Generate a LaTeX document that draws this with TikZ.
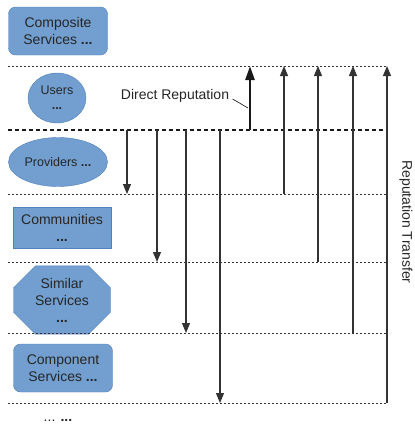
\documentclass[tikz,border=0pt]{standalone}
\usepackage{fontspec}
\setmainfont{Liberation Sans}
\usepackage{tikz}
\usetikzlibrary{shapes.geometric, shapes.misc, arrows.meta, positioning, calc}
\definecolor{entityfill}{HTML}{729FCF}
\definecolor{entityedge}{HTML}{4F7FBF}
\definecolor{arrowgray}{HTML}{333333}

\begin{document}
\begin{tikzpicture}[
    x=1pt, y=-1pt,
    every node/.style={font=\fontsize{14}{17}\selectfont, text=black!85},
    entity/.style={draw=entityedge, fill=entityfill, align=center, inner sep=1pt},
    roundbox/.style={entity, rounded corners=7pt, minimum width=99pt, minimum height=48pt},
    oval/.style={entity, ellipse, font=\fontsize{12.5}{15}\selectfont},
    sharpbox/.style={entity, minimum width=98pt, minimum height=41pt},
    cutbox/.style={entity, chamfered rectangle, chamfered rectangle xsep=10pt,
                   chamfered rectangle ysep=12pt, minimum width=97pt, minimum height=51pt, inner sep=0pt},
    dotline/.style={draw=black!80, line width=0.8pt, dash pattern=on 2pt off 2pt},
    dashline/.style={draw=black!90, line width=1.6pt, dash pattern=on 4pt off 3pt},
    arrow/.style={-{Triangle[length=10pt, width=8pt]}, line width=1.1pt, arrowgray},
    bigarrow/.style={-{Triangle[length=14pt, width=9pt]}, line width=2.6pt, black!90}
  ]
    \useasboundingbox (0,0) rectangle (415,426);

    % entity types
    \node[roundbox] (composite) at (58,31) {Composite\\Services \textbf{...}};
    \node[oval, minimum width=58pt, minimum height=50pt] (users) at (57,98) {Users\\\textbf{...}};
    \node[oval, minimum width=99pt, minimum height=49pt] (providers) at (58,162) {Providers \textbf{...}};
    \node[sharpbox] (communities) at (62,228) {Communities\\\textbf{...}};
    \node[cutbox] (similar) at (62,300) {Similar\\Services\\\textbf{...}};
    \node[roundbox] (component) at (63,368) {Component\\Services \textbf{...}};
    \node (more) at (58,420) {... \textbf{...}};

    % level lines
    \coordinate (l0) at (8,66);  \coordinate (r0) at (387,66);
    \coordinate (l1) at (8,130); \coordinate (r1) at (387,130);
    \coordinate (l2) at (8,194); \coordinate (r2) at (387,194);
    \coordinate (l3) at (8,262); \coordinate (r3) at (387,262);
    \coordinate (l4) at (8,333); \coordinate (r4) at (387,333);
    \coordinate (l5) at (8,403); \coordinate (r5) at (387,403);

    \draw[dotline] (l0) -- (r0);
    \draw[dashline] (l1) -- (r1);
    \foreach \k in {2,3,4,5} {
      \draw[dotline] (l\k) -- (r\k);
    }

    % reputation transfer
    \coordinate (dn2) at (127,130);
    \coordinate (dn3) at (157,130);
    \coordinate (dn4) at (186,130);
    \coordinate (dn5) at (220,130);
    \foreach \k in {2,3,4,5} {
      \draw[arrow] (dn\k) -- (dn\k |- l\k);
    }
    \coordinate (up2) at (284,66);
    \coordinate (up3) at (318,66);
    \coordinate (up4) at (353,66);
    \foreach \k in {2,3,4} {
      \draw[arrow] (up\k |- l\k) -- (up\k);
    }
    \draw[arrow] (r5) -- (r0);

    % direct reputation
    \coordinate (direct) at (250,130);
    \draw[bigarrow] (direct) -- (direct |- l0);
    \node (directlbl) at (175,96) {Direct Reputation};
    \coordinate (directpt) at (248,108);
    \draw[black!85, line width=0.7pt] ([yshift=-3pt]directlbl.east) -- (directpt);

    \node[rotate=-90, inner sep=0pt] (transfer) at (406,222) {Reputation Transfer};
  \end{tikzpicture}
\end{document}
